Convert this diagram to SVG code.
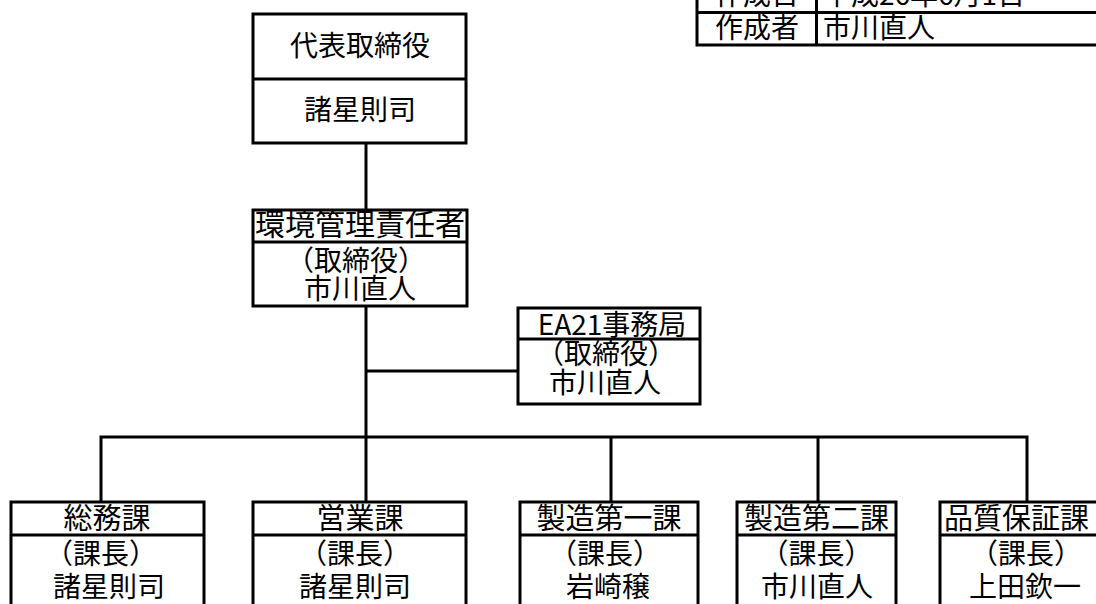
<svg xmlns="http://www.w3.org/2000/svg" width="1096" height="604" viewBox="0 0 1096 604">
<style>
.box{fill:#fff;stroke:#000;stroke-width:3}
.ln{fill:none;stroke:#000;stroke-width:3}
text{font-family:"Noto Sans CJK JP","Noto Sans CJK SC",sans-serif;font-size:28px;fill:#000;text-anchor:middle}
.hd{font-size:29px}
</style>
<rect width="1096" height="604" fill="#fff"/>
<g id="connectors">
<line class="ln" x1="366" y1="143" x2="366" y2="210"/>
<line class="ln" x1="366" y1="306" x2="366" y2="437"/>
<line class="ln" x1="366" y1="371" x2="518" y2="371"/>
<polyline class="ln" points="101,502 101,437 1027,437 1027,502"/>
<line class="ln" x1="366" y1="437" x2="366" y2="502"/>
<line class="ln" x1="611" y1="437" x2="611" y2="502"/>
<line class="ln" x1="818" y1="437" x2="818" y2="502"/>
</g>
<g id="info-table">
<rect class="box" x="697" y="-22" width="420" height="67"/>
<line class="ln" x1="697" y1="12.5" x2="1110" y2="12.5"/>
<line class="ln" x1="816.5" y1="-22" x2="816.5" y2="45"/>
<text x="757" y="5">作成日</text>
<text x="823" y="5" style="text-anchor:start">平成26年6月1日</text>
<text x="757" y="38">作成者</text>
<text x="823" y="38" style="text-anchor:start">市川直人</text>
</g>
<g id="node-president">
<rect class="box" x="253" y="14" width="213" height="129"/>
<line class="ln" x1="253" y1="79" x2="466" y2="79"/>
<text x="360" y="56">代表取締役</text>
<text x="360" y="120">諸星則司</text>
</g>
<g id="node-env-manager">
<rect class="box" x="253" y="210" width="214" height="96"/>
<line class="ln" x1="253" y1="242" x2="467" y2="242"/>
<text x="360" y="235" style="font-size:30px">環境管理責任者</text>
<text x="356" y="271">（取締役）</text>
<text x="360" y="299">市川直人</text>
</g>
<g id="node-ea21">
<rect class="box" x="518" y="308" width="182" height="96"/>
<line class="ln" x1="518" y1="339" x2="700" y2="339"/>
<text x="612" y="335">EA21事務局</text>
<text x="606" y="364">（取締役）</text>
<text x="605" y="393">市川直人</text>
</g>
<g id="node-soumu">
<rect class="box" x="11" y="502" width="193" height="120"/>
<line class="ln" x1="11" y1="535" x2="204" y2="535"/>
<text class="hd" x="107" y="529">総務課</text>
<text x="101" y="564">（課長）</text>
<text x="109" y="597">諸星則司</text>
</g>
<g id="node-eigyo">
<rect class="box" x="253" y="502" width="213" height="120"/>
<line class="ln" x1="253" y1="535" x2="466" y2="535"/>
<text class="hd" x="360" y="529">営業課</text>
<text x="355" y="564">（課長）</text>
<text x="355" y="597">諸星則司</text>
</g>
<g id="node-seizo1">
<rect class="box" x="520" y="502" width="178" height="120"/>
<line class="ln" x1="520" y1="535" x2="698" y2="535"/>
<text class="hd" x="609" y="529">製造第一課</text>
<text x="605" y="564">（課長）</text>
<text x="608" y="597">岩崎穣</text>
</g>
<g id="node-seizo2">
<rect class="box" x="737" y="502" width="159" height="120"/>
<line class="ln" x1="737" y1="535" x2="896" y2="535"/>
<text class="hd" x="816.5" y="529">製造第二課</text>
<text x="816.5" y="564">（課長）</text>
<text x="817" y="597">市川直人</text>
</g>
<g id="node-hinshitsu">
<rect class="box" x="940" y="502" width="180" height="120"/>
<line class="ln" x1="940" y1="535" x2="1120" y2="535"/>
<text class="hd" x="944" y="529" style="text-anchor:start">品質保証課</text>
<text x="1026" y="564">（課長）</text>
<text x="1025" y="597">上田欽一</text>
</g>
</svg>
